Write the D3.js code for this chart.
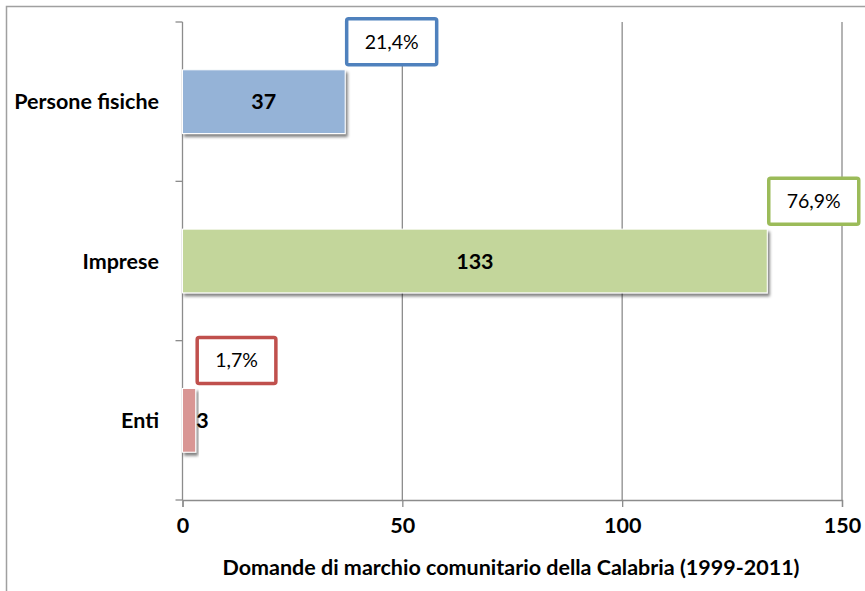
<!DOCTYPE html>
<html>
<head>
<meta charset="utf-8">
<script src="https://cdn.jsdelivr.net/npm/d3@7"></script>
<style>
  html, body { margin: 0; padding: 0; background: #fff; }
  svg { display: block; }
  text { font-family: Lato, "Open Sans", sans-serif; }
</style>
</head>
<body>
<svg id="chart" width="865" height="591"></svg>
<script>
// ---- data ----
const categories = ["Persone fisiche", "Imprese", "Enti"];
const values = [37, 133, 3];
const shares = ["21,4%", "76,9%", "1,7%"];
const barColors = ["#95B3D7", "#C3D69B", "#D99694"];
const boxColors = ["#4F81BD", "#9BBB59", "#C0504D"];
const xTicks = [0, 50, 100, 150];
const xTitle = "Domande di marchio comunitario della Calabria (1999-2011)";

// ---- layout ----
const W = 865, H = 591;
const plot = { left: 182.5, right: 842, top: 22, bottom: 500 };
const boldSize = 21.5;

const svg = d3.select("#chart");

// outer frame
svg.append("rect")
  .attr("x", 6.5).attr("y", 6.5)
  .attr("width", W + 10).attr("height", H + 10)
  .attr("fill", "#fff").attr("stroke", "#A0A0A0").attr("stroke-width", 1.5);

const defs = svg.append("defs");
const f = defs.append("filter").attr("id", "shadow")
  .attr("x", "-10%").attr("y", "-20%").attr("width", "130%").attr("height", "150%");
f.append("feGaussianBlur").attr("in", "SourceAlpha").attr("stdDeviation", 1.8).attr("result", "b");
f.append("feOffset").attr("in", "b").attr("dx", 1.5).attr("dy", 3).attr("result", "o");
f.append("feComponentTransfer").attr("in", "o").attr("result", "o2")
  .append("feFuncA").attr("type", "linear").attr("slope", 0.5);
const m = f.append("feMerge");
m.append("feMergeNode").attr("in", "o2");
m.append("feMergeNode").attr("in", "SourceGraphic");

const x = d3.scaleLinear().domain([0, 150]).range([plot.left, plot.right]);
const y = d3.scaleBand().domain(categories).range([plot.top, plot.bottom])
  .paddingInner(0.6).paddingOuter(0.3);
const yOuter = d3.scaleBand().domain(categories).range([plot.top, plot.bottom]);

const gridColor = "#8C8C8C";

// vertical gridlines
svg.append("g").selectAll("line").data(xTicks.filter(d => d > 0)).join("line")
  .attr("x1", d => x(d)).attr("x2", d => x(d))
  .attr("y1", plot.top).attr("y2", plot.bottom)
  .attr("stroke", gridColor).attr("stroke-width", 1.3);

// x axis
const xAxis = svg.append("g").attr("transform", `translate(0,${plot.bottom})`)
  .call(d3.axisBottom(x).tickValues(xTicks).tickSize(7).tickPadding(11));
xAxis.select(".domain").attr("stroke", gridColor).attr("stroke-width", 1.3);
xAxis.selectAll(".tick line").attr("stroke", gridColor).attr("stroke-width", 1.3);
xAxis.selectAll(".tick text")
  .attr("font-size", boldSize).attr("font-weight", "bold").attr("fill", "#000")
  .attr("font-family", "Lato, sans-serif");

// y axis (ticks at category boundaries)
const yBounds = categories.map(c => yOuter(c)).concat([plot.bottom]);
svg.append("line")
  .attr("x1", plot.left).attr("x2", plot.left)
  .attr("y1", plot.top).attr("y2", plot.bottom)
  .attr("stroke", gridColor).attr("stroke-width", 1.3);
svg.append("g").selectAll("line").data(yBounds).join("line")
  .attr("x1", plot.left - 7).attr("x2", plot.left)
  .attr("y1", d => d).attr("y2", d => d)
  .attr("stroke", gridColor).attr("stroke-width", 1.3);

// category labels
svg.append("g").selectAll("text").data(categories).join("text")
  .attr("x", 159)
  .attr("y", d => yOuter(d) + yOuter.bandwidth() / 2)
  .attr("dy", "0.35em")
  .attr("text-anchor", "end")
  .attr("font-size", boldSize).attr("font-weight", "bold").attr("fill", "#000")
  .text(d => d);

// bars
const data = categories.map((c, i) => ({ c, v: values[i], s: shares[i], bc: barColors[i], kc: boxColors[i] }));
svg.append("g").selectAll("rect").data(data).join("rect")
  .attr("x", x(0))
  .attr("y", d => y(d.c))
  .attr("width", d => x(d.v) - x(0))
  .attr("height", y.bandwidth())
  .attr("fill", d => d.bc)
  .attr("stroke", "#fff").attr("stroke-width", 1)
  .attr("filter", "url(#shadow)");

// value labels
svg.append("g").selectAll("text").data(data).join("text")
  .attr("x", d => (x(d.v) - x(0)) > 40 ? (x(0) + x(d.v)) / 2 : x(d.v) + 0.5)
  .attr("y", d => y(d.c) + y.bandwidth() / 2)
  .attr("dy", "0.35em")
  .attr("text-anchor", d => (x(d.v) - x(0)) > 40 ? "middle" : "start")
  .attr("font-size", boldSize).attr("font-weight", "bold").attr("fill", "#000")
  .text(d => d.v);

// share callout boxes
const boxes = svg.append("g").selectAll("g").data(data).join("g");
boxes.each(function (d) {
  const g = d3.select(this);
  const t = g.append("text")
    .attr("font-size", 19.5).attr("fill", "#000")
    .attr("text-anchor", "middle").attr("dy", "0.35em")
    .text(d.s);
  const bw = t.node().getBBox().width + 36;
  const bh = 46;
  const bx = x(d.v) + 1.5;
  const by = y(d.c) - 5 - bh;
  g.insert("rect", "text")
    .attr("x", bx).attr("y", by).attr("width", bw).attr("height", bh)
    .attr("rx", 2)
    .attr("fill", "#fff").attr("stroke", d.kc).attr("stroke-width", 3.5);
  t.attr("x", bx + bw / 2).attr("y", by + bh / 2);
});

// x axis title
svg.append("text")
  .attr("x", 511).attr("y", 567)
  .attr("dy", "0.35em")
  .attr("text-anchor", "middle")
  .attr("font-size", boldSize).attr("font-weight", "bold").attr("fill", "#000")
  .text(xTitle);
</script>
</body>
</html>
